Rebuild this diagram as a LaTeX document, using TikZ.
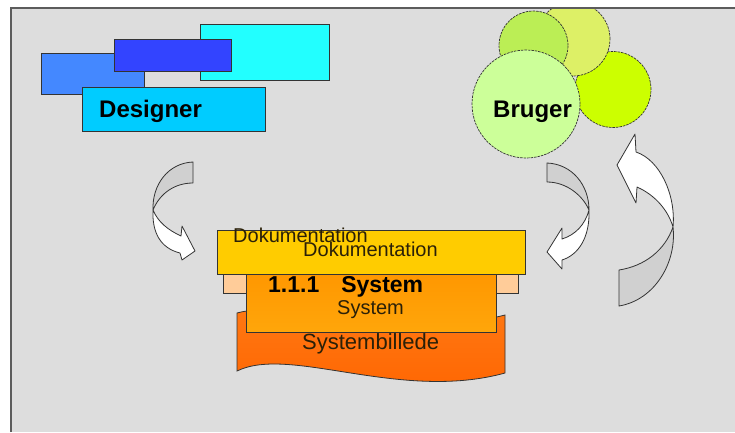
\documentclass[tikz,border=0pt]{standalone}
\usepackage{fontspec}
\setmainfont{Liberation Sans}
\usetikzlibrary{shapes,positioning}

\definecolor{panel}{HTML}{DDDDDD}
\definecolor{edge}{HTML}{333333}
\definecolor{txt}{HTML}{2A2008}
\definecolor{shadegray}{HTML}{D0D0D0}

\begin{document}
\begin{tikzpicture}[x=1pt, y=-1pt,
    box/.style={rectangle, draw=edge, line width=0.8pt, inner sep=0pt, outer sep=0pt},
    ball/.style={circle, draw=edge, line width=0.7pt, dash pattern=on 2.5pt off 1pt, inner sep=0pt, outer sep=0pt},
    curlarrow/.style={draw=edge, line width=0.8pt, line join=round},
    doctext/.style={inner sep=0pt, anchor=base west, font=\fontsize{20}{24}\selectfont, text=txt},
    boldtext/.style={inner sep=0pt, anchor=base west, font=\bfseries\fontsize{24}{28}\selectfont}
]
\useasboundingbox (0,0) rectangle (735,432);
\fill[white] (0,0) rectangle (735,432);

\begin{scope}
\clip (11,8) rectangle (735,432);
\fill[panel] (11,8) rectangle (735,432);

% Designer group
\node[box, fill={rgb,255:red,68;green,136;blue,255}, minimum width=103pt, minimum height=41pt] (des1) at (92.5,73.5) {};
\node[box, fill={rgb,255:red,34;green,255;blue,255}, minimum width=129pt, minimum height=56pt] (des2) at (264.5,52) {};
\node[box, fill={rgb,255:red,51;green,68;blue,255}, minimum width=117pt, minimum height=32pt] (des3) at (172.5,55) {};
\node[box, fill={rgb,255:red,0;green,204;blue,255}, minimum width=183pt, minimum height=44pt] (designer) at (173.5,109) {};
\node[boldtext] (designerlbl) at (99,117) {Designer};

% Bruger group
\node[ball, fill={rgb,255:red,204;green,255;blue,0}, minimum size=76pt] (usr1) at (613,89.5) {};
\node[ball, fill={rgb,255:red,221;green,240;blue,102}, minimum size=74pt] (usr2) at (573,39) {};
\node[ball, fill={rgb,255:red,187;green,238;blue,85}, minimum size=69pt] (usr3) at (533.5,45.5) {};
\node[ball, fill={rgb,255:red,204;green,255;blue,153}, minimum size=108pt] (bruger) at (526,104) {};
\node[boldtext] (brugerlbl) at (493,117) {Bruger};

% System stack
\shade[top color={rgb,255:red,255;green,122;blue,20}, bottom color={rgb,255:red,255;green,100;blue,0}, draw=edge, line width=0.8pt]
  (237,313) .. controls (290,298) and (400,342) .. (505,315) -- (505,373)
  .. controls (400,402) and (290,345) .. (237,371) -- cycle;
\node[box, fill={rgb,255:red,255;green,204;blue,153}, minimum width=295pt, minimum height=19pt] (peach) at (370.5,283.5) {};
\node[box, top color={rgb,255:red,255;green,150;blue,0}, bottom color={rgb,255:red,255;green,166;blue,10}, minimum width=250pt, minimum height=62pt] (system) at (371,301) {};
\node[box, fill={rgb,255:red,255;green,204;blue,0}, minimum width=308pt, minimum height=44pt] (doku) at (371,252) {};
\node[doctext] (dokulbl1) at (233,242) {Dokumentation};
\node[doctext] (dokulbl2) at (303,256) {Dokumentation};
\node[boldtext, font=\bfseries\fontsize{23}{27}\selectfont] (syshead) at (268,292) {1.1.1\hspace{22pt}System};
\node[doctext] (syslbl) at (337,314) {System};
\node[doctext, font=\fontsize{22}{26}\selectfont] (billedlbl) at (302,349) {Systembillede};

% Left curved arrow
\path[curlarrow, fill=shadegray] (193,162) .. controls (168,163) and (152,185) .. (153,210)
  .. controls (160,193) and (175,183) .. (193,183) -- cycle;
\path[curlarrow, fill=white] (153,210) .. controls (158,222) and (168,230) .. (181,236)
  -- (182,226) -- (195,251) -- (182,260) -- (180,253)
  .. controls (160,248) and (152,232) .. (153,210) -- cycle;

% Middle curved arrow
\path[curlarrow, fill=shadegray] (547,163) .. controls (572,164) and (589,185) .. (589,210)
  .. controls (583,196) and (567,182) .. (547,182) -- cycle;
\path[curlarrow, fill=white] (589,210) .. controls (585,225) and (575,235) .. (562,239)
  -- (562,228) -- (547,252) -- (562,269) -- (562,260)
  .. controls (578,255) and (590,238) .. (589,210) -- cycle;

% Right curved arrow
\path[curlarrow, fill=shadegray] (619,270) .. controls (645,266) and (665,250) .. (673,227)
  .. controls (677,262) and (655,300) .. (619,306) -- cycle;
\path[curlarrow, fill=white] (673,227) .. controls (676,195) and (660,160) .. (636,152)
  -- (635,134) -- (617,165) -- (636,203) -- (637,187)
  .. controls (655,195) and (668,210) .. (673,227) -- cycle;
\end{scope}

% frame
\draw[edge!80, line width=1.6pt] (11,432) -- (11,8) -- (735,8);
\end{tikzpicture}
\end{document}
